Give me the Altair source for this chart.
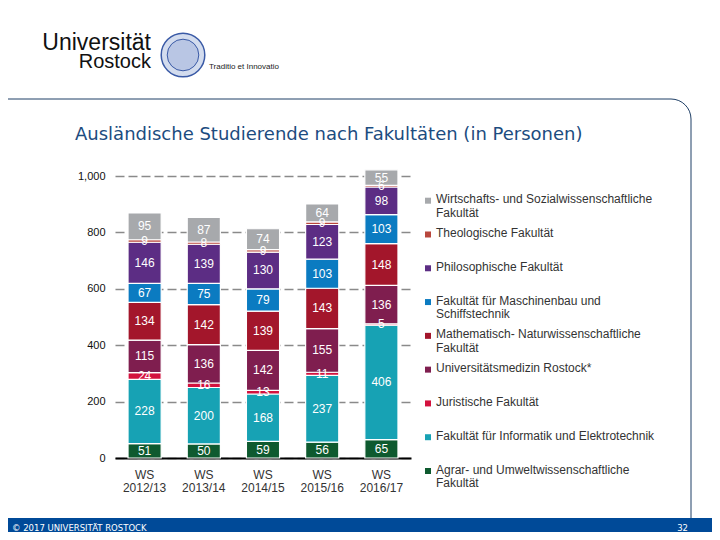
import altair as alt
import pandas as pd

# ---------------- data ----------------
semesters = ["WS 2012/13", "WS 2013/14", "WS 2014/15", "WS 2015/16", "WS 2016/17"]

# stacking order, bottom to top
faculties = [
    "Agrar- und Umweltwissenschaftliche Fakultät",
    "Fakultät für Informatik und Elektrotechnik",
    "Juristische Fakultät",
    "Universitätsmedizin Rostock*",
    "Mathematisch- Naturwissenschaftliche Fakultät",
    "Fakultät für Maschinenbau und Schiffstechnik",
    "Philosophische Fakultät",
    "Theologische Fakultät",
    "Wirtschafts- und Sozialwissenschaftliche Fakultät",
]
legend_labels = [
    "Agrar- und Umweltwissenschaftliche\nFakultät",
    "Fakultät für Informatik und Elektrotechnik",
    "Juristische Fakultät",
    "Universitätsmedizin Rostock*",
    "Mathematisch- Naturwissenschaftliche\nFakultät",
    "Fakultät für Maschinenbau und\nSchiffstechnik",
    "Philosophische Fakultät",
    "Theologische Fakultät",
    "Wirtschafts- und Sozialwissenschaftliche\nFakultät",
]
colors = [
    "#0E5A2F",  # Agrar
    "#17A2B4",  # Informatik
    "#D3123E",  # Juristische
    "#7F1E4F",  # Universitätsmedizin
    "#A3162B",  # Mathematisch-Nat.
    "#0B7BC1",  # Maschinenbau
    "#5C2D84",  # Philosophische
    "#B8473D",  # Theologische
    "#A7A9AC",  # Wirtschafts
]

agrar = [51, 50, 59, 56, 65]
informatik = [228, 200, 168, 237, 406]
juristische = [24, 16, 13, 11, 5]
unimedizin = [115, 136, 142, 155, 136]
mathnat = [134, 142, 139, 143, 148]
maschinenbau = [67, 75, 79, 103, 103]
philosophische = [146, 139, 130, 123, 98]
theologische = [9, 8, 9, 9, 6]
wirtschaft = [95, 87, 74, 64, 55]
series = [agrar, informatik, juristische, unimedizin, mathnat,
          maschinenbau, philosophische, theologische, wirtschaft]

y_ticks = [0, 200, 400, 600, 800, 1000]

rows = []
for i, (fac, vals) in enumerate(zip(faculties, series)):
    for s, v in zip(semesters, vals):
        rows.append({"semester": s, "faculty": fac, "idx": i, "value": v})
df = pd.DataFrame(rows)
leg_df = pd.DataFrame({"faculty": faculties, "label": legend_labels})
one = pd.DataFrame({"k": [0]})

color_enc = alt.Color("faculty:N", scale=alt.Scale(domain=faculties, range=colors), legend=None)
x_enc = alt.X(
    "semester:N", sort=semesters, title=None,
    scale=alt.Scale(paddingInner=0.44, paddingOuter=0.22),
    axis=alt.Axis(labelExpr="split(datum.label, ' ')", labelAngle=0, domainColor="#000",
                  domainWidth=2, ticks=False, labelFontSize=12, labelColor="#333",
                  labelLineHeight=13, labelPadding=11, labelBaseline="top"),
)
yscale = alt.Scale(domain=[0, 1000], nice=False)
y_axis = alt.Axis(values=y_ticks, labelExpr="format(datum.value, ',')", domain=False,
                  ticks=False, gridDash=[9, 4], gridColor="#8a8a8a", gridWidth=1.5,
                  labelPadding=10, labelFontSize=11, labelColor="#111")

bars = alt.Chart(df).mark_bar(stroke="white", strokeWidth=1.2).encode(
    x=x_enc,
    y=alt.Y("value:Q", stack="zero", title=None, scale=yscale, axis=y_axis),
    color=color_enc,
    order=alt.Order("idx:Q", sort="ascending"),
)

labels = alt.Chart(df).transform_stack(
    stack="value", groupby=["semester"], as_=["v0", "v1"],
    sort=[alt.SortField("idx", order="ascending")],
).transform_calculate(mid="(datum.v0 + datum.v1) / 2").mark_text(
    color="white", fontSize=12
).encode(
    x=alt.X("semester:N", sort=semesters, title=None),
    y=alt.Y("mid:Q", title=None, scale=yscale, axis=y_axis),
    text=alt.Text("value:Q"),
)

leg_y = alt.Y("faculty:N", sort=list(reversed(faculties)),
              scale=alt.Scale(type="point", range=[24.7, 295], padding=0), axis=None)
leg_sq = alt.Chart(leg_df).mark_square(size=36, opacity=1).encode(
    x=alt.value(313), y=leg_y, color=color_enc
)
leg_tx = alt.Chart(leg_df).mark_text(
    align="left", baseline="top", dy=-6.5, lineBreak="\n", fontSize=12,
    lineHeight=13.5, color="#333"
).encode(x=alt.value(321), y=leg_y, text="label:N")

# ---------------- slide decoration ----------------
frame = alt.Chart(one).mark_rect(
    fillOpacity=0, stroke="#1F3F66", strokeWidth=1, cornerRadius=20
).encode(x=alt.value(-160), x2=alt.value(576), y=alt.value(-77), y2=alt.value(420))

footer = alt.Chart(one).mark_rect(color="#004A98").encode(
    x=alt.value(-160), x2=alt.value(640), y=alt.value(342), y2=alt.value(420)
)
footer_l = alt.Chart(one).mark_text(
    text="© 2017 UNIVERSITÄT ROSTOCK", align="left", baseline="middle",
    color="white", fontSize=8.5, font="DejaVu Sans"
).encode(x=alt.value(-103), y=alt.value(352))
footer_r = alt.Chart(one).mark_text(
    text="32", align="right", baseline="middle", color="white", fontSize=8.5, font="DejaVu Sans"
).encode(x=alt.value(573), y=alt.value(352))

uni1 = alt.Chart(one).mark_text(
    text="Universität", align="right", baseline="alphabetic", fontSize=23, color="#111"
).encode(x=alt.value(36), y=alt.value(-126))
uni2 = alt.Chart(one).mark_text(
    text="Rostock", align="right", baseline="alphabetic", fontSize=20, color="#111"
).encode(x=alt.value(36), y=alt.value(-108))
seal_outer = alt.Chart(one).mark_circle(
    size=1900, color="#D3DCEE", opacity=1, stroke="#3A5AA6", strokeWidth=1.5
).encode(x=alt.value(68), y=alt.value(-121))
seal_inner = alt.Chart(one).mark_circle(
    size=1000, color="#B9C6E4", opacity=1, stroke="#3A5AA6", strokeWidth=1
).encode(x=alt.value(68), y=alt.value(-121))
motto = alt.Chart(one).mark_text(
    text="Traditio et Innovatio", align="left", baseline="middle", fontSize=8,
    font="Liberation Sans", color="#222"
).encode(x=alt.value(94), y=alt.value(-109))
title = alt.Chart(one).mark_text(
    text="Ausländische Studierende nach Fakultäten (in Personen)", align="left",
    baseline="middle", fontSize=18, font="DejaVu Sans", color="#1C4C80"
).encode(x=alt.value(-40), y=alt.value(-41))

chart = alt.layer(
    frame, footer, footer_l, footer_r, uni1, uni2, seal_outer, seal_inner, motto, title,
    alt.layer(bars, labels),
    alt.layer(leg_sq, leg_tx),
).resolve_scale(y="independent").properties(
    width=296, height=282, autosize="none",
    padding={"left": 107, "top": 168, "right": 301, "bottom": 74},
).configure(font="Liberation Sans").configure_view(strokeWidth=0)

chart.save("out.html", embed_options={"renderer": "svg", "actions": False})
